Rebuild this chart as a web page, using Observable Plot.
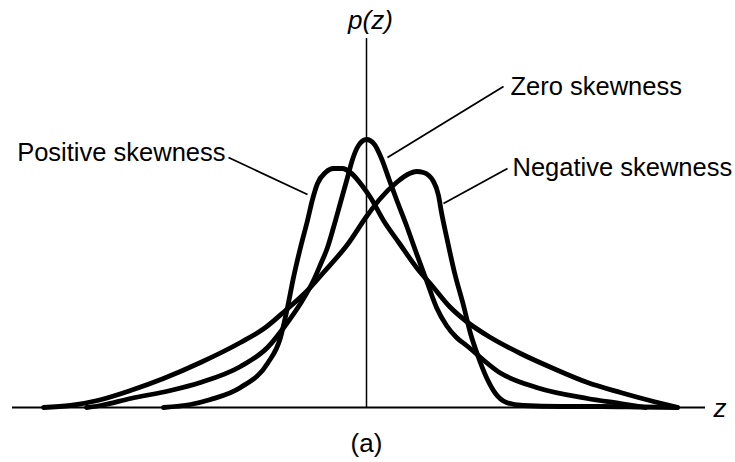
<!DOCTYPE html>
<html>
<head>
<meta charset="utf-8">
<script src="https://cdn.jsdelivr.net/npm/d3@7"></script>
<script src="https://cdn.jsdelivr.net/npm/@observablehq/plot@0.6"></script>
<style>
  html, body { margin: 0; padding: 0; background: #fff; }
  #chart svg { display: block; }
</style>
</head>
<body>
<div id="chart"></div>
<script>
// Probability density p(z) for three shapes of distribution.
// z and p are in arbitrary units; the vertical axis marks z = 0.

const zeroZ = [-2.80, -2.66, -2.36, -1.96, -1.66, -1.26, -0.99, -0.79, -0.66, -0.53, -0.46, -0.39, -0.33, -0.26, -0.19, -0.14, -0.08, 0, 0.08, 0.15, 0.23, 0.30, 0.40, 0.50, 0.60, 0.70, 0.80, 0.90, 1.00, 1.33, 1.70, 2.21, 2.54, 2.79];
const zeroP = [0, 0.02, 0.09, 0.17, 0.25, 0.41, 0.60, 0.85, 1.04, 1.27, 1.43, 1.60, 1.80, 2.05, 2.30, 2.48, 2.62, 2.68, 2.63, 2.49, 2.27, 2.08, 1.82, 1.54, 1.27, 1.00, 0.82, 0.70, 0.62, 0.35, 0.20, 0.09, 0.04, 0];

const posZ = [-2.03, -1.76, -1.56, -1.26, -0.99, -0.86, -0.79, -0.73, -0.66, -0.59, -0.54, -0.49, -0.41, -0.33, -0.24, -0.16, -0.03, 0.04, 0.17, 0.33, 0.50, 0.67, 0.83, 1.00, 1.24, 1.54, 1.87, 2.21, 2.54, 2.87, 3.11];
const posP = [0, 0.03, 0.08, 0.20, 0.44, 0.70, 1.00, 1.30, 1.60, 1.87, 2.08, 2.24, 2.35, 2.39, 2.39, 2.35, 2.20, 2.10, 1.87, 1.64, 1.40, 1.20, 1.01, 0.86, 0.70, 0.54, 0.39, 0.25, 0.15, 0.06, 0];

const negZ = [-3.23, -2.96, -2.69, -2.36, -2.03, -1.66, -1.26, -1.01, -0.81, -0.59, -0.43, -0.19, 0, 0.13, 0.30, 0.43, 0.50, 0.57, 0.67, 0.72, 0.75, 0.80, 0.88, 0.97, 1.04, 1.12, 1.20, 1.29, 1.40, 1.57, 1.94, 2.34, 2.74, 3.11];
const negP = [0, 0.02, 0.07, 0.17, 0.29, 0.45, 0.65, 0.80, 0.97, 1.17, 1.35, 1.63, 1.91, 2.08, 2.25, 2.34, 2.36, 2.35, 2.26, 2.12, 1.95, 1.71, 1.35, 1.02, 0.74, 0.50, 0.30, 0.14, 0.05, 0.02, 0.01, 0.01, 0.005, 0];

const seriesNames = ["Positive skewness", "Zero skewness", "Negative skewness"];

const toRows = (name, zs, ps) => zs.map((z, i) => ({series: name, z, p: ps[i]}));
const curves = [
  ...toRows(seriesNames[0], posZ, posP),
  ...toRows(seriesNames[1], zeroZ, zeroP),
  ...toRows(seriesNames[2], negZ, negP)
];

// Label placement and the leader line from each label to its curve.
const labels = [
  {text: seriesNames[0], z: -1.41, p: 2.55, anchor: "end",   z1: -1.38, p1: 2.50, z2: -0.59, p2: 2.13},
  {text: seriesNames[1], z: 1.44,  p: 3.21, anchor: "start", z1: 1.37,  p1: 3.21, z2: 0.21,  p2: 2.50},
  {text: seriesNames[2], z: 1.46,  p: 2.40, anchor: "start", z1: 1.41,  p1: 2.39, z2: 0.77,  p2: 2.04}
];

const chart = Plot.plot({
  width: 735,
  height: 462,
  margin: 0,
  x: {domain: [-3.66, 3.69], axis: null},
  y: {domain: [-0.55, 4.07], axis: null},
  style: {fontFamily: "'Liberation Sans', Arial, sans-serif", background: "#fff", color: "#000"},
  marks: [
    // axes
    Plot.ruleY([0], {x1: -3.54, x2: 3.39, stroke: "#000", strokeWidth: 1.8}),
    Plot.ruleX([0], {y1: 0, y2: 3.69, stroke: "#000", strokeWidth: 1.5}),
    // leader lines
    Plot.link(labels, {x1: "z1", y1: "p1", x2: "z2", y2: "p2", stroke: "#000", strokeWidth: 1.8}),
    // density curves
    Plot.line(curves, {
      x: "z", y: "p", z: "series",
      curve: "monotone-x",
      stroke: "#000", strokeWidth: 4.8,
      strokeLinejoin: "round", strokeLinecap: "round"
    }),
    // series labels
    Plot.text(labels.filter(d => d.anchor === "end"), {x: "z", y: "p", text: "text", textAnchor: "end", fontSize: 25.5, fill: "#000"}),
    Plot.text(labels.filter(d => d.anchor === "start"), {x: "z", y: "p", text: "text", textAnchor: "start", fontSize: 25.5, fill: "#000"}),
    // axis names and panel caption
    Plot.text(["p(z)"], {x: 0.04, y: 3.87, text: d => d, fontSize: 26, fontStyle: "italic", fill: "#000"}),
    Plot.text(["z"], {x: 3.47, y: -0.01, text: d => d, textAnchor: "start", fontSize: 26, fontStyle: "italic", fill: "#000"}),
    Plot.text(["(a)"], {x: 0, y: -0.36, text: d => d, fontSize: 26, fill: "#000"})
  ]
});

document.getElementById("chart").appendChild(chart);
</script>
</body>
</html>
